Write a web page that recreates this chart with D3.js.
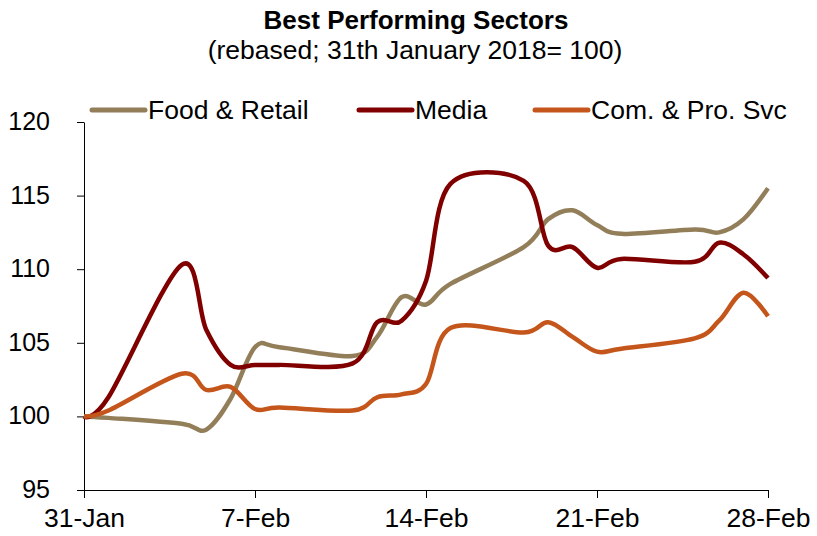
<!DOCTYPE html>
<html>
<head>
<meta charset="utf-8">
<script src="https://cdn.jsdelivr.net/npm/d3@7"></script>
<style>
  body { margin: 0; background: #fff; }
  svg { display: block; font-family: "Liberation Sans", Arial, sans-serif; }
</style>
</head>
<body>
<div id="chart"></div>
<script>
// trading days (Tadawul, Sun-Thu)
const dates = ["2018-01-31","2018-02-01","2018-02-04","2018-02-05","2018-02-06","2018-02-07","2018-02-08",
  "2018-02-11","2018-02-12","2018-02-13","2018-02-14","2018-02-15","2018-02-18","2018-02-19","2018-02-20",
  "2018-02-21","2018-02-22","2018-02-25","2018-02-26","2018-02-27","2018-02-28"]

const foodRetail = [100, 99.9, 99.5, 99.1, 101.2, 104.7, 104.7, 104.1, 105.4, 108.1, 107.6, 109.0, 111.5, 113.4, 114.0, 113.0, 112.4, 112.7, 112.5, 113.4, 115.5]
const media = [100, 101.3, 110.3, 105.9, 103.5, 103.5, 103.5, 103.6, 106.4, 106.5, 109.2, 115.8, 116.0, 111.6, 111.5, 110.1, 110.7, 110.5, 111.8, 111.0, 109.4]
const comProSvc = [100, 100.4, 102.9, 101.8, 102.0, 100.5, 100.6, 100.4, 101.3, 101.5, 102.2, 106.0, 105.7, 106.4, 105.4, 104.4, 104.6, 105.3, 106.5, 108.4, 106.8]

const seriesNames = ["Food & Retail", "Media", "Com. & Pro. Svc"]
const seriesColors = ["#937E5A", "#800000", "#C5561B"]

const xTicks = ["2018-01-31","2018-02-07","2018-02-14","2018-02-21","2018-02-28"]
const yTicks = [95, 100, 105, 110, 115, 120]

// chart size
const width = 817, height = 536
const margin = { top: 122, right: 49, bottom: 46, left: 84 }

const parse = d3.timeParse("%Y-%m-%d")

const svg = d3.select("#chart").append("svg")
    .attr("width", width)
    .attr("height", height)

const x = d3.scaleTime()
    .domain([parse(xTicks[0]), parse(xTicks[xTicks.length - 1])])
    .range([margin.left, width - margin.right])

const y = d3.scaleLinear()
    .domain([95, 120])
    .range([height - margin.bottom, margin.top])

// title
svg.append("text")
    .attr("x", 416).attr("y", 29)
    .attr("text-anchor", "middle")
    .style("font-weight", "bold")
    .style("font-size", "26px")
    .text("Best Performing Sectors")
svg.append("text")
    .attr("x", 415).attr("y", 59)
    .attr("text-anchor", "middle")
    .style("font-size", "26.5px")
    .text("(rebased; 31th January 2018= 100)")

// axes
const xAxis = svg.append("g")
    .attr("transform", `translate(0,${height - margin.bottom})`)
    .call(d3.axisBottom(x)
        .tickValues(xTicks.map(parse))
        .tickFormat(d3.timeFormat("%-d-%b"))
        .tickSize(8)
        .tickSizeOuter(0)
        .tickPadding(10))
xAxis.selectAll("text").style("font-size", "26.5px").attr("fill", "#000")

const yAxis = svg.append("g")
    .attr("transform", `translate(${margin.left},0)`)
    .call(d3.axisLeft(y)
        .tickValues(yTicks)
        .tickSize(7)
        .tickSizeOuter(0)
        .tickPadding(27))
yAxis.selectAll("text").style("font-size", "25px").attr("fill", "#000").attr("dy", "0.3em")

svg.selectAll(".domain, .tick line").attr("stroke", "#000").attr("stroke-width", 1)
svg.selectAll(".tick text").style("font-family", "'Liberation Sans', Arial, sans-serif")

// lines
const allSeries = [foodRetail, media, comProSvc]
const line = d3.line()
    .curve(d3.curveCardinal.tension(0))
    .x(function(d, i) { return x(parse(dates[i])) })
    .y(function(d) { return y(d) })

allSeries.forEach(function(vals, i) {
    svg.append("path")
        .datum(vals)
        .attr("fill", "none")
        .attr("stroke", seriesColors[i])
        .attr("stroke-width", 4.5)
        .attr("stroke-linejoin", "round")
        .attr("d", line)
})

// legend
const legendX = [90, 357, 533]
const legend = svg.append("g")
seriesNames.forEach(function(name, i) {
    legend.append("line")
        .attr("x1", legendX[i] + 2).attr("x2", legendX[i] + 55)
        .attr("y1", 110).attr("y2", 110)
        .attr("stroke", seriesColors[i])
        .attr("stroke-width", 5)
        .attr("stroke-linecap", "round")
    legend.append("text")
        .attr("x", legendX[i] + 58).attr("y", 119)
        .style("font-size", "26.5px")
        .text(name)
})
</script>
</body>
</html>
